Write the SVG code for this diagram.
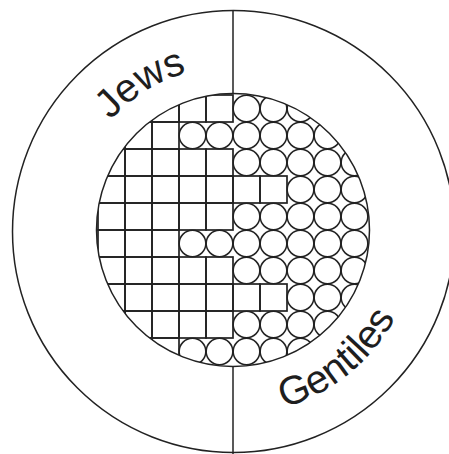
<svg xmlns="http://www.w3.org/2000/svg" xmlns:xlink="http://www.w3.org/1999/xlink" width="449" height="454" viewBox="0 0 449 454">
<style>
.ln{fill:none;stroke:#222;stroke-width:1.5}
.sq{fill:none;stroke:#222;stroke-width:1.7}
.ci{fill:none;stroke:#222;stroke-width:1.5}
.lbl{font-family:"Liberation Sans",Arial,sans-serif;fill:#1e1e1e}
</style>
<defs>
<clipPath id="inner"><circle cx="233" cy="230" r="136.5"/></clipPath>
<path id="jewsArc" d="M72.2,193.9 A165,165 0 0 1 270.1,70.2"/>
<path id="gentArc" d="M213.8,414 A184,184 0 0 0 416,250.2"/>
</defs>
<rect width="449" height="454" fill="#fff"/>
<g id="outer">
<circle class="ln" cx="233.5" cy="231.5" r="221"/>
<line class="ln" x1="233" y1="10" x2="233" y2="94"/>
<line class="ln" x1="233" y1="366" x2="233" y2="454"/>
</g>
<g id="grid" clip-path="url(#inner)">
<g id="squares">
<rect class="sq" x="98" y="95" width="27" height="27"/><rect class="sq" x="125" y="95" width="27" height="27"/><rect class="sq" x="152" y="95" width="27" height="27"/><rect class="sq" x="179" y="95" width="27" height="27"/><rect class="sq" x="206" y="95" width="27" height="27"/>
<rect class="sq" x="98" y="122" width="27" height="27"/><rect class="sq" x="125" y="122" width="27" height="27"/><rect class="sq" x="152" y="122" width="27" height="27"/>
<rect class="sq" x="98" y="149" width="27" height="27"/><rect class="sq" x="125" y="149" width="27" height="27"/><rect class="sq" x="152" y="149" width="27" height="27"/><rect class="sq" x="179" y="149" width="27" height="27"/><rect class="sq" x="206" y="149" width="27" height="27"/>
<rect class="sq" x="98" y="176" width="27" height="27"/><rect class="sq" x="125" y="176" width="27" height="27"/><rect class="sq" x="152" y="176" width="27" height="27"/><rect class="sq" x="179" y="176" width="27" height="27"/><rect class="sq" x="206" y="176" width="27" height="27"/><rect class="sq" x="233" y="176" width="27" height="27"/><rect class="sq" x="260" y="176" width="27" height="27"/>
<rect class="sq" x="98" y="203" width="27" height="27"/><rect class="sq" x="125" y="203" width="27" height="27"/><rect class="sq" x="152" y="203" width="27" height="27"/><rect class="sq" x="179" y="203" width="27" height="27"/><rect class="sq" x="206" y="203" width="27" height="27"/>
<rect class="sq" x="98" y="230" width="27" height="27"/><rect class="sq" x="125" y="230" width="27" height="27"/><rect class="sq" x="152" y="230" width="27" height="27"/>
<rect class="sq" x="98" y="257" width="27" height="27"/><rect class="sq" x="125" y="257" width="27" height="27"/><rect class="sq" x="152" y="257" width="27" height="27"/><rect class="sq" x="179" y="257" width="27" height="27"/><rect class="sq" x="206" y="257" width="27" height="27"/>
<rect class="sq" x="98" y="284" width="27" height="27"/><rect class="sq" x="125" y="284" width="27" height="27"/><rect class="sq" x="152" y="284" width="27" height="27"/><rect class="sq" x="179" y="284" width="27" height="27"/><rect class="sq" x="206" y="284" width="27" height="27"/><rect class="sq" x="233" y="284" width="27" height="27"/><rect class="sq" x="260" y="284" width="27" height="27"/>
<rect class="sq" x="98" y="311" width="27" height="27"/><rect class="sq" x="125" y="311" width="27" height="27"/><rect class="sq" x="152" y="311" width="27" height="27"/><rect class="sq" x="179" y="311" width="27" height="27"/><rect class="sq" x="206" y="311" width="27" height="27"/>
<rect class="sq" x="98" y="338" width="27" height="27"/><rect class="sq" x="125" y="338" width="27" height="27"/><rect class="sq" x="152" y="338" width="27" height="27"/>
</g>
<g id="circles">
<circle class="ci" cx="246.5" cy="108.5" r="13.3"/><circle class="ci" cx="273.5" cy="108.5" r="13.3"/><circle class="ci" cx="300.5" cy="108.5" r="13.3"/><circle class="ci" cx="327.5" cy="108.5" r="13.3"/><circle class="ci" cx="354.5" cy="108.5" r="13.3"/>
<circle class="ci" cx="192.5" cy="135.5" r="13.3"/><circle class="ci" cx="219.5" cy="135.5" r="13.3"/><circle class="ci" cx="246.5" cy="135.5" r="13.3"/><circle class="ci" cx="273.5" cy="135.5" r="13.3"/><circle class="ci" cx="300.5" cy="135.5" r="13.3"/><circle class="ci" cx="327.5" cy="135.5" r="13.3"/><circle class="ci" cx="354.5" cy="135.5" r="13.3"/>
<circle class="ci" cx="246.5" cy="162.5" r="13.3"/><circle class="ci" cx="273.5" cy="162.5" r="13.3"/><circle class="ci" cx="300.5" cy="162.5" r="13.3"/><circle class="ci" cx="327.5" cy="162.5" r="13.3"/><circle class="ci" cx="354.5" cy="162.5" r="13.3"/>
<circle class="ci" cx="300.5" cy="189.5" r="13.3"/><circle class="ci" cx="327.5" cy="189.5" r="13.3"/><circle class="ci" cx="354.5" cy="189.5" r="13.3"/>
<circle class="ci" cx="246.5" cy="216.5" r="13.3"/><circle class="ci" cx="273.5" cy="216.5" r="13.3"/><circle class="ci" cx="300.5" cy="216.5" r="13.3"/><circle class="ci" cx="327.5" cy="216.5" r="13.3"/><circle class="ci" cx="354.5" cy="216.5" r="13.3"/>
<circle class="ci" cx="192.5" cy="243.5" r="13.3"/><circle class="ci" cx="219.5" cy="243.5" r="13.3"/><circle class="ci" cx="246.5" cy="243.5" r="13.3"/><circle class="ci" cx="273.5" cy="243.5" r="13.3"/><circle class="ci" cx="300.5" cy="243.5" r="13.3"/><circle class="ci" cx="327.5" cy="243.5" r="13.3"/><circle class="ci" cx="354.5" cy="243.5" r="13.3"/>
<circle class="ci" cx="246.5" cy="270.5" r="13.3"/><circle class="ci" cx="273.5" cy="270.5" r="13.3"/><circle class="ci" cx="300.5" cy="270.5" r="13.3"/><circle class="ci" cx="327.5" cy="270.5" r="13.3"/><circle class="ci" cx="354.5" cy="270.5" r="13.3"/>
<circle class="ci" cx="300.5" cy="297.5" r="13.3"/><circle class="ci" cx="327.5" cy="297.5" r="13.3"/><circle class="ci" cx="354.5" cy="297.5" r="13.3"/>
<circle class="ci" cx="246.5" cy="324.5" r="13.3"/><circle class="ci" cx="273.5" cy="324.5" r="13.3"/><circle class="ci" cx="300.5" cy="324.5" r="13.3"/><circle class="ci" cx="327.5" cy="324.5" r="13.3"/><circle class="ci" cx="354.5" cy="324.5" r="13.3"/>
<circle class="ci" cx="192.5" cy="351.5" r="13.3"/><circle class="ci" cx="219.5" cy="351.5" r="13.3"/><circle class="ci" cx="246.5" cy="351.5" r="13.3"/><circle class="ci" cx="273.5" cy="351.5" r="13.3"/><circle class="ci" cx="300.5" cy="351.5" r="13.3"/><circle class="ci" cx="327.5" cy="351.5" r="13.3"/><circle class="ci" cx="354.5" cy="351.5" r="13.3"/>
</g>
</g>
<circle id="innerCircle" class="ln" cx="233" cy="230" r="136.5"/>
<g id="labels">
<text class="lbl" font-size="40"><textPath xlink:href="#jewsArc" href="#jewsArc" startOffset="50%" text-anchor="middle">Jews</textPath></text>
<text class="lbl" font-size="40"><textPath xlink:href="#gentArc" href="#gentArc" startOffset="50%" text-anchor="middle">Gentiles</textPath></text>
</g>
</svg>
